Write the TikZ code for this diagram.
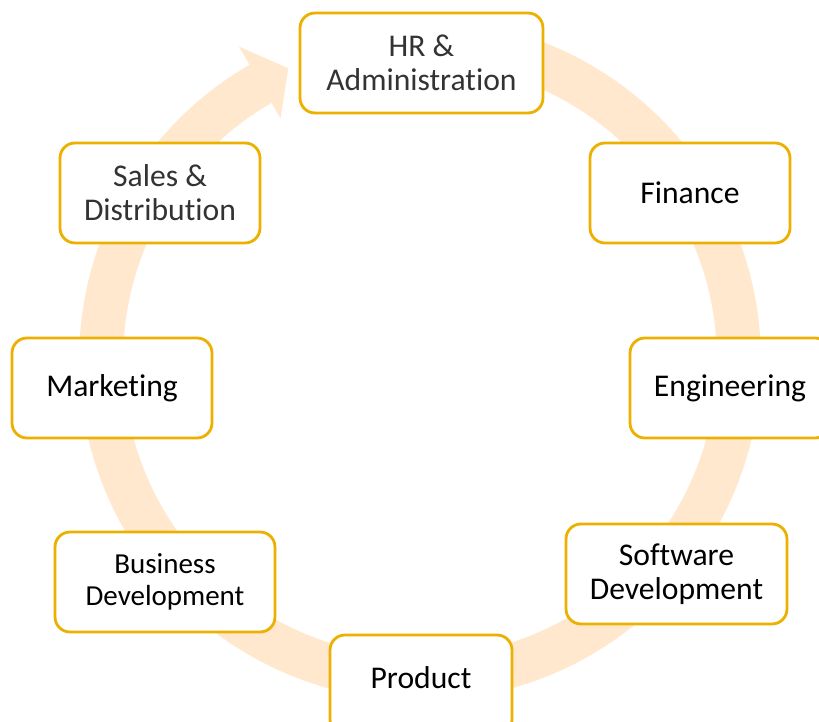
\documentclass[tikz,border=0pt]{standalone}
\usepackage{fontspec}
\setmainfont{Carlito}[Ligatures=NoCommon]
\usetikzlibrary{positioning}
\definecolor{ringfill}{RGB}{255,232,206}
\definecolor{boxgold}{RGB}{236,176,0}
\tikzset{
  dept/.style={draw=boxgold, line width=1.6pt, rounded corners=8.5pt, fill=white,
    align=center, minimum height=2cm, inner sep=2pt,
    font=\fontsize{18}{19.5}\selectfont},
  deptlight/.style={dept, text=black!80},
}

\begin{document}
\begin{tikzpicture}[x=0.02cm,y=-0.02cm]
  \useasboundingbox (0,0) rectangle (819,722);
  \clip (0,0) rectangle (819,722);
  \def\cx{420}
  \def\cy{360}
  % ring arrow, clockwise, head ending at the top left
  \fill[ringfill]
    plot[domain=90:-240, samples=120] ({\cx+341*cos(\x)},{\cy-341*sin(\x)})
    -- ({\cx+362*cos(-240)},{\cy-362*sin(-240)})
    -- ({\cx+320*cos(-245.7)},{\cy-320*sin(-245.7)})
    -- ({\cx+279*cos(-240)},{\cy-279*sin(-240)})
    -- plot[domain=-240:90, samples=120] ({\cx+297*cos(\x)},{\cy-297*sin(\x)})
    -- cycle;
  % departments
  \node[deptlight, minimum width=4.86cm] (hr) at (421.5,63) {HR \&\\Administration};
  \node[dept, minimum width=4cm] (finance) at (690,193) {Finance};
  \node[dept, minimum width=4cm] (engineering) at (730,388) {Engineering};
  \node[dept, minimum width=4.42cm] (software) at (676.5,574) {Software\\Development};
  \node[dept, minimum width=3.64cm, text depth=8pt] (product) at (421,685) {Product};
  \node[dept, minimum width=4.4cm, font=\fontsize{16.5}{18}\selectfont] (business) at (165,582) {Business\\Development};
  \node[dept, minimum width=4cm] (marketing) at (112,388) {Marketing};
  \node[deptlight, minimum width=4cm] (sales) at (160,193) {Sales \&\\Distribution};
\end{tikzpicture}
\end{document}
